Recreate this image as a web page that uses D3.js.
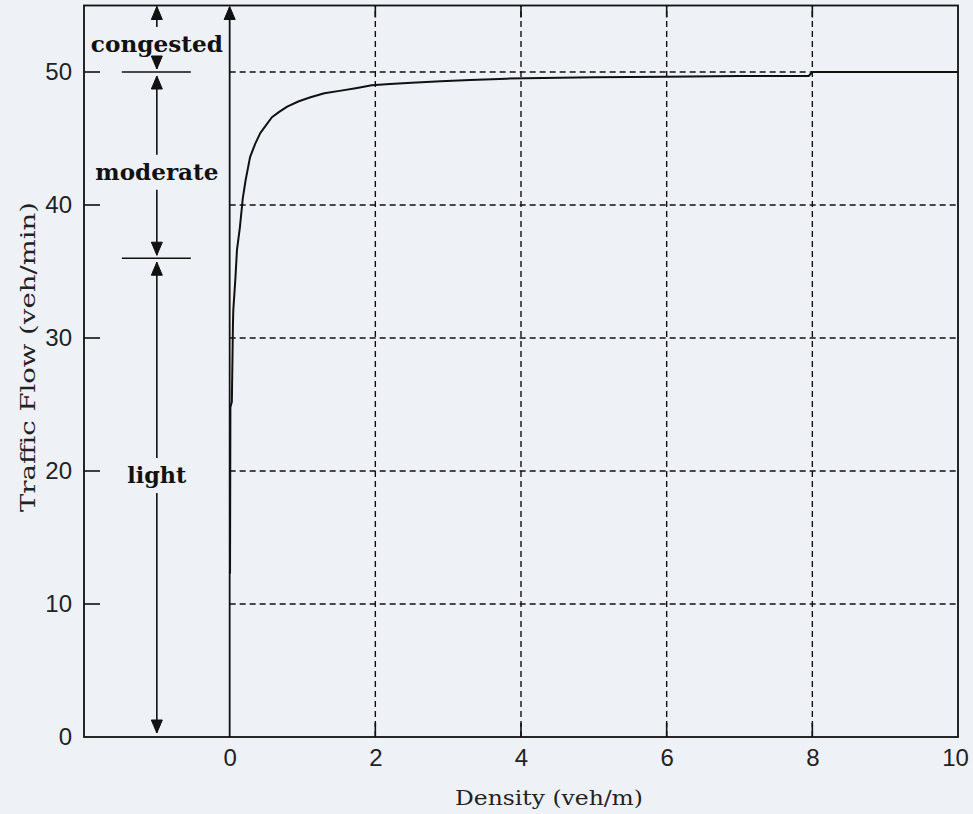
<!DOCTYPE html>
<html>
<head>
<meta charset="utf-8">
<script src="https://cdn.jsdelivr.net/npm/d3@7"></script>
<style>
  html, body { margin: 0; padding: 0; background: #eef1f6; }
  svg { display: block; }
</style>
</head>
<body>
<svg id="chart" width="973" height="814"></svg>
<script>
// Flow–density relation
const density = [0.005, 0.01, 0.03, 0.045, 0.05, 0.08, 0.10, 0.14, 0.18, 0.22, 0.28, 0.35, 0.42, 0.50, 0.58, 0.68, 0.79, 0.95, 1.11, 1.30, 1.53, 1.75, 1.95, 2.20, 2.50, 2.90, 3.30, 3.80, 4.30, 5.00, 6.00, 7.00, 7.95, 8.00, 10.0];
const flow    = [12.3, 24.8, 25.2, 31.0, 32.1, 34.6, 36.6, 38.3, 40.5, 41.9, 43.6, 44.6, 45.4, 46.0, 46.6, 47.0, 47.4, 47.8, 48.1, 48.4, 48.6, 48.8, 49.0, 49.1, 49.2, 49.3, 49.4, 49.5, 49.55, 49.6, 49.65, 49.7, 49.7, 50.0, 50.0];

// Axis ticks
const xTicks = [0, 2, 4, 6, 8, 10];
const yTicks = [0, 10, 20, 30, 40, 50];

// Traffic regimes (flow bands) and where their names sit
const regimeNames  = ["light", "moderate", "congested"];
const regimeBounds = [0, 36, 50, 55];
const regimeLabelFlow = [19.1, 41.9, 51.5];

const svg = d3.select("#chart");
const x = d3.scaleLinear().domain([-2, 10]).range([84, 958]);
const y = d3.scaleLinear().domain([0, 55]).range([737, 5.5]);
const ink = "#111";

// grid (only over the positive density range)
const grid = svg.append("g").attr("stroke", ink).attr("stroke-width", 1.4).attr("stroke-dasharray", "6,4");
grid.selectAll("line.v").data(xTicks.filter(t => t > 0 && t < 10)).join("line")
  .attr("x1", d => x(d)).attr("x2", d => x(d)).attr("y1", y(0)).attr("y2", y(55));
grid.selectAll("line.h").data(yTicks.filter(t => t > 0)).join("line")
  .attr("x1", x(0)).attr("x2", x(10)).attr("y1", d => y(d)).attr("y2", d => y(d));

// axes with inward ticks
const fontTick = "'Liberation Sans', Arial, sans-serif";
const xAxis = svg.append("g").attr("transform", `translate(0,${y(0)})`)
  .call(d3.axisBottom(x).tickValues(xTicks).tickSize(0).tickPadding(12));
xAxis.select(".domain").remove();
xAxis.selectAll("text").attr("font-family", fontTick).attr("font-size", 24).attr("fill", "#222");
xAxis.selectAll(".tick").filter(d => d === 10).select("text").attr("dx", -3);

const yAxis = svg.append("g").attr("transform", `translate(${x(-2)},0)`)
  .call(d3.axisLeft(y).tickValues(yTicks).tickSize(0).tickPadding(12));
yAxis.select(".domain").remove();
yAxis.selectAll("text").attr("font-family", fontTick).attr("font-size", 24).attr("fill", "#222");

const ticks = svg.append("g").attr("stroke", ink).attr("stroke-width", 1.6);
ticks.selectAll("line.l").data(yTicks.filter(t => t > 0)).join("line")
  .attr("x1", x(-2)).attr("x2", x(-2) + 16).attr("y1", d => y(d)).attr("y2", d => y(d));
ticks.selectAll("line.b").data(xTicks.filter(t => t > 0 && t < 10)).join("line")
  .attr("x1", d => x(d)).attr("x2", d => x(d)).attr("y1", y(0)).attr("y2", y(0) - 14);
ticks.selectAll("line.t").data(xTicks.filter(t => t > 0 && t < 10)).join("line")
  .attr("x1", d => x(d)).attr("x2", d => x(d)).attr("y1", y(55)).attr("y2", y(55) + 12);

// frame
svg.append("rect").attr("x", x(-2)).attr("y", y(55))
  .attr("width", x(10) - x(-2)).attr("height", y(0) - y(55))
  .attr("fill", "none").attr("stroke", ink).attr("stroke-width", 1.8);

// arrowhead helper: tip at (cx, cy); dir -1 points up, +1 points down
function head(g, cx, cy, dir) {
  const w = 5.5, h = 13;
  g.append("path")
    .attr("d", `M${cx},${cy} L${cx - w},${cy - dir * h} L${cx + w},${cy - dir * h} Z`)
    .attr("fill", ink).attr("stroke", ink).attr("stroke-width", 1);
}

// density = 0 axis with arrow
const zero = svg.append("g");
zero.append("line").attr("x1", x(0)).attr("x2", x(0)).attr("y1", y(0)).attr("y2", y(55) + 2)
  .attr("stroke", ink).attr("stroke-width", 1.8);
head(zero, x(0), y(55) + 1, -1);

// flow–density curve
svg.append("path")
  .datum(density.map((d, i) => [d, flow[i]]))
  .attr("fill", "none").attr("stroke", ink).attr("stroke-width", 2)
  .attr("stroke-linejoin", "round")
  .attr("d", d3.line().x(d => x(d[0])).y(d => y(d[1])));

// regime annotation column
const ax = x(-1);
const ann = svg.append("g");
const fontLabel = "'DejaVu Serif', 'Liberation Serif', serif";
const labelWidth = { light: 59, moderate: 123, congested: 132 };
regimeNames.forEach((name, i) => {
  const lo = regimeBounds[i], hi = regimeBounds[i + 1];
  const t = ann.append("text").attr("x", ax).attr("y", y(regimeLabelFlow[i]))
    .attr("text-anchor", "middle").attr("font-family", fontLabel)
    .attr("font-weight", "bold").attr("font-size", 23).attr("fill", ink)
    .attr("textLength", labelWidth[name]).attr("lengthAdjust", "spacingAndGlyphs")
    .text(name);
  const bb = t.node().getBBox();
  const top = bb.y + 7, bottom = bb.y + bb.height + 5;
  const tipHi = y(hi) + (hi === 55 ? 1 : 4);
  const tipLo = y(lo) - (lo === 0 ? 4 : 3);
  ann.append("line").attr("x1", ax).attr("x2", ax).attr("y1", top - 10).attr("y2", tipHi)
    .attr("stroke", ink).attr("stroke-width", 1.6);
  head(ann, ax, tipHi, -1);
  ann.append("line").attr("x1", ax).attr("x2", ax).attr("y1", bottom).attr("y2", tipLo)
    .attr("stroke", ink).attr("stroke-width", 1.6);
  head(ann, ax, tipLo, 1);
});
ann.selectAll("line.bound").data(regimeBounds.slice(1, -1)).join("line")
  .attr("x1", ax - 35).attr("x2", ax + 34).attr("y1", d => y(d)).attr("y2", d => y(d))
  .attr("stroke", ink).attr("stroke-width", 1.6);

// axis titles
const fontTitle = "'DejaVu Serif', 'Liberation Serif', serif";
svg.append("text").attr("x", 549).attr("y", 805).attr("text-anchor", "middle")
  .attr("font-family", fontTitle).attr("font-size", 20).attr("fill", "#222")
  .attr("textLength", 188).attr("lengthAdjust", "spacingAndGlyphs")
  .text("Density (veh/m)");
svg.append("text").attr("transform", "translate(35,357) rotate(-90)").attr("text-anchor", "middle")
  .attr("font-family", fontTitle).attr("font-size", 20).attr("fill", "#222")
  .attr("textLength", 310).attr("lengthAdjust", "spacingAndGlyphs")
  .text("Traffic Flow (veh/min)");
</script>
</body>
</html>
